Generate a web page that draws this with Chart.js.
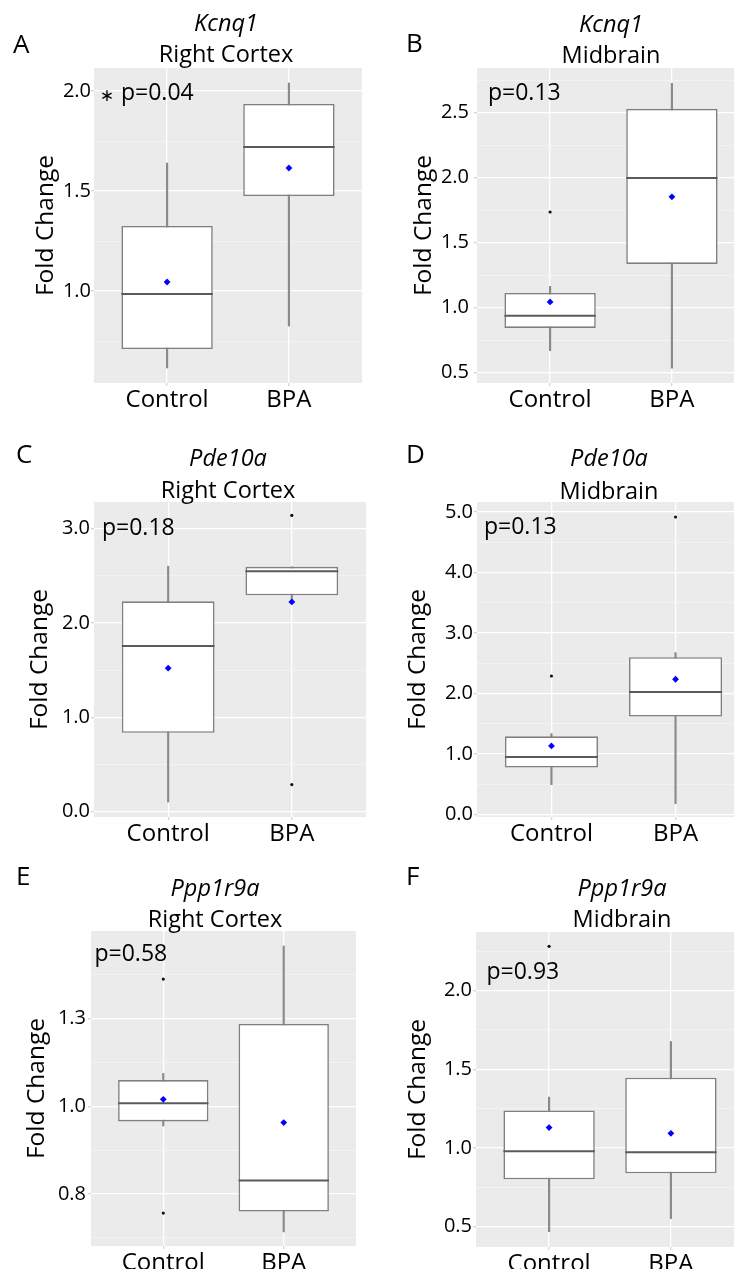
<!DOCTYPE html>
<html>
<head>
<meta charset="utf-8">
<script src="https://cdn.jsdelivr.net/npm/chart.js@4.4.0/dist/chart.umd.min.js"></script>
<style>
  html, body { margin: 0; padding: 0; background: #fff; }
  body { width: 734px; height: 1269px; overflow: hidden; position: relative; }
  .panel { position: absolute; }
</style>
</head>
<body>
<div class="panel" style="left:0;top:0"><canvas id="chartA" width="380" height="420"></canvas></div>
<div class="panel" style="left:380px;top:0"><canvas id="chartB" width="380" height="420"></canvas></div>
<div class="panel" style="left:0;top:420px"><canvas id="chartC" width="380" height="430"></canvas></div>
<div class="panel" style="left:380px;top:420px"><canvas id="chartD" width="380" height="430"></canvas></div>
<div class="panel" style="left:0;top:850px"><canvas id="chartE" width="380" height="430"></canvas></div>
<div class="panel" style="left:380px;top:850px"><canvas id="chartF" width="380" height="430"></canvas></div>
<script>
// groups on the x axis
const categories = ['Control', 'BPA'];

// A - Kcnq1, right cortex
const aLower = [0.615, 0.825];
const aQ1 = [0.71, 1.475];
const aMedian = [0.985, 1.72];
const aQ3 = [1.325, 1.935];
const aUpper = [1.64, 2.04];
const aMean = [1.045, 1.615];
const aOutliers = [[], []];
const aTicks = [1.0, 1.5, 2.0];
const aTickLabels = ['1.0', '1.5', '2.0'];
const aMinor = [0.75, 1.25, 1.75];

// B - Kcnq1, midbrain
const bLower = [0.669, 0.534];
const bQ1 = [0.844, 1.336];
const bMedian = [0.938, 1.998];
const bQ3 = [1.113, 2.53];
const bUpper = [1.164, 2.726];
const bMean = [1.044, 1.853];
const bOutliers = [[1.736], []];
const bTicks = [0.5, 1.0, 1.5, 2.0, 2.5];
const bTickLabels = ['0.5', '1.0', '1.5', '2.0', '2.5'];
const bMinor = [0.75, 1.25, 1.75, 2.25, 2.75];

// C - Pde10a, right cortex
const cLower = [0.102, 2.24];
const cQ1 = [0.836, 2.294];
const cMedian = [1.755, 2.549];
const cQ3 = [2.23, 2.596];
const cUpper = [2.602, 2.596];
const cMean = [1.521, 2.223];
const cOutliers = [[], [3.141, 0.287]];
const cTicks = [0, 1, 2, 3];
const cTickLabels = ['0.0', '1.0', '2.0', '3.0'];
const cMinor = [0.5, 1.5, 2.5];

// D - Pde10a, midbrain
const dLower = [0.49, 0.177];
const dQ1 = [0.772, 1.616];
const dMedian = [0.948, 2.023];
const dQ3 = [1.29, 2.597];
const dUpper = [1.335, 2.674];
const dMean = [1.13, 2.233];
const dOutliers = [[2.287], [4.917]];
const dTicks = [0, 1, 2, 3, 4, 5];
const dTickLabels = ['0.0', '1.0', '2.0', '3.0', '4.0', '5.0'];
const dMinor = [0.5, 1.5, 2.5, 3.5, 4.5];

// E - Ppp1r9a, right cortex
const eLower = [0.944, 0.642];
const eQ1 = [0.957, 0.70];
const eMedian = [1.009, 0.789];
const eQ3 = [1.075, 1.235];
const eUpper = [1.094, 1.457];
const eMean = [1.02, 0.954];
const eOutliers = [[1.363, 0.696], []];
const eTicks = [0.75, 1.0, 1.25];
const eTickLabels = ['0.8', '1.0', '1.3'];
const eMinor = [0.625, 0.875, 1.125, 1.375];

// F - Ppp1r9a, midbrain
const fLower = [0.468, 0.551];
const fQ1 = [0.801, 0.839];
const fMedian = [0.979, 0.972];
const fQ3 = [1.238, 1.446];
const fUpper = [1.323, 1.676];
const fMean = [1.129, 1.093];
const fOutliers = [[2.28], []];
const fTicks = [0.5, 1.0, 1.5, 2.0];
const fTickLabels = ['0.5', '1.0', '1.5', '2.0'];
const fMinor = [0.75, 1.25, 1.75, 2.25];

const FONT = '"Open Sans"';
const INK = '#000000';

const panels = [
  { id: 'chartA', letter: 'A', gene: 'Kcnq1', region: 'Right Cortex', pMark: '\u2217', pText: 'p=0.04',
    lower: aLower, q1: aQ1, median: aMedian, q3: aQ3, upper: aUpper, mean: aMean, outliers: aOutliers,
    ticks: aTicks, tickLabels: aTickLabels, minor: aMinor, yMin: 0.54, yMax: 2.115,
    area: { l: 94, r: 362, t: 68, b: 383 }, tickGap: 3, yTitleX: 46,
    letterPos: [13, 53], titleX: 226, titleY: [31, 62], pPos: [27, 32] },
  { id: 'chartB', letter: 'B', gene: 'Kcnq1', region: 'Midbrain', pText: 'p=0.13',
    lower: bLower, q1: bQ1, median: bMedian, q3: bQ3, upper: bUpper, mean: bMean, outliers: bOutliers,
    ticks: bTicks, tickLabels: bTickLabels, minor: bMinor, yMin: 0.42, yMax: 2.844,
    area: { l: 97, r: 365, t: 68, b: 383 }, tickGap: 8, yTitleX: 44,
    letterPos: [26, 52], titleX: 231, titleY: [31.5, 63], pPos: [11, 32] },
  { id: 'chartC', letter: 'C', gene: 'Pde10a', region: 'Right Cortex', pText: 'p=0.18',
    lower: cLower, q1: cQ1, median: cMedian, q3: cQ3, upper: cUpper, mean: cMean, outliers: cOutliers,
    ticks: cTicks, tickLabels: cTickLabels, minor: cMinor, yMin: -0.057, yMax: 3.283,
    area: { l: 94, r: 366, t: 82, b: 397 }, tickGap: 4, yTitleX: 40,
    letterPos: [16, 43], titleX: 228, titleY: [45.5, 78], pPos: [8, 33] },
  { id: 'chartD', letter: 'D', gene: 'Pde10a', region: 'Midbrain', pText: 'p=0.13',
    lower: dLower, q1: dQ1, median: dMedian, q3: dQ3, upper: dUpper, mean: dMean, outliers: dOutliers,
    ticks: dTicks, tickLabels: dTickLabels, minor: dMinor, yMin: -0.045, yMax: 5.165,
    area: { l: 97, r: 370, t: 82, b: 397 }, tickGap: 4, yTitleX: 38,
    letterPos: [26, 43], titleX: 229, titleY: [45.5, 78.5], pPos: [7, 31.5] },
  { id: 'chartE', letter: 'E', gene: 'Ppp1r9a', region: 'Right Cortex', pText: 'p=0.58',
    lower: eLower, q1: eQ1, median: eMedian, q3: eQ3, upper: eUpper, mean: eMean, outliers: eOutliers,
    ticks: eTicks, tickLabels: eTickLabels, minor: eMinor, yMin: 0.602, yMax: 1.50,
    area: { l: 91, r: 356, t: 81, b: 396 }, tickGap: 5, yTitleX: 37,
    letterPos: [16, 35], titleX: 215, titleY: [45.5, 77], pPos: [3.5, 30] },
  { id: 'chartF', letter: 'F', gene: 'Ppp1r9a', region: 'Midbrain', pText: 'p=0.93',
    lower: fLower, q1: fQ1, median: fMedian, q3: fQ3, upper: fUpper, mean: fMean, outliers: fOutliers,
    ticks: fTicks, tickLabels: fTickLabels, minor: fMinor, yMin: 0.371, yMax: 2.371,
    area: { l: 96, r: 364, t: 82, b: 397 }, tickGap: 4, yTitleX: 38,
    letterPos: [26, 35], titleX: 242, titleY: [45.5, 77], pPos: [10.5, 46.5] }
];

// grey panel background (ggplot style)
const panelBg = {
  id: 'panelBg',
  beforeDraw(chart) {
    const { ctx, chartArea: a } = chart;
    ctx.save();
    ctx.fillStyle = '#ebebeb';
    ctx.fillRect(a.left, a.top, a.width, a.height);
    ctx.restore();
  }
};

// median line across each box
const medianLines = {
  id: 'medianLines',
  afterDatasetDraw(chart, args, opts) {
    if (args.index !== 1) return;
    const ctx = chart.ctx;
    const y = chart.scales.y;
    ctx.save();
    ctx.strokeStyle = '#5a5a5a';
    ctx.lineWidth = 2;
    args.meta.data.forEach(function(bar, i) {
      const p = bar.getProps(['x', 'width'], true);
      const py = y.getPixelForValue(opts.median[i]);
      ctx.beginPath();
      ctx.moveTo(p.x - p.width / 2, py);
      ctx.lineTo(p.x + p.width / 2, py);
      ctx.stroke();
    });
    ctx.restore();
  }
};

// panel letter, title lines and p-value
const panelText = {
  id: 'panelText',
  afterDraw(chart, args, opts) {
    const ctx = chart.ctx;
    const a = chart.chartArea;
    ctx.save();
    ctx.fillStyle = INK;
    ctx.textBaseline = 'alphabetic';
    ctx.textAlign = 'left';
    ctx.font = '26px ' + FONT;
    ctx.fillText(opts.letter, opts.letterPos[0], opts.letterPos[1]);
    ctx.textAlign = 'center';
    ctx.font = 'italic 23.5px ' + FONT;
    ctx.fillText(opts.gene, opts.titleX, opts.titleY[0]);
    ctx.font = '23.5px ' + FONT;
    ctx.fillText(opts.region, opts.titleX, opts.titleY[1]);
    ctx.textAlign = 'left';
    ctx.font = '23px ' + FONT;
    ctx.fillText(opts.pText, a.left + opts.pPos[0], a.top + opts.pPos[1]);
    if (opts.pMark) {
      ctx.textAlign = 'right';
      ctx.font = '17px "DejaVu Sans"';
      ctx.fillText(opts.pMark, a.left + opts.pPos[0] - 7, a.top + opts.pPos[1] + 1);
    }
    ctx.restore();
  }
};

function buildChart(p) {
  const canvas = document.getElementById(p.id);
  const W = canvas.width, H = canvas.height;
  const xAxisH = 30;
  const padLeft = p.yTitleX - 15;
  const xs = [1, 2];

  const isMajor = function(v) { return p.ticks.indexOf(v) !== -1; };

  const outlierPts = [];
  p.outliers.forEach(function(list, i) {
    list.forEach(function(v) { outlierPts.push({ x: xs[i], y: v }); });
  });

  new Chart(canvas, {
    type: 'bar',
    data: {
      datasets: [
        {
          // whiskers
          data: xs.map(function(x, i) { return { x: x, y: [p.lower[i], p.upper[i]] }; }),
          backgroundColor: '#8a8a8a',
          borderWidth: 0,
          barThickness: 1.5,
          grouped: false,
          order: 4
        },
        {
          // boxes (q1 - q3)
          data: xs.map(function(x, i) { return { x: x, y: [p.q1[i], p.q3[i]] }; }),
          backgroundColor: '#ffffff',
          borderColor: '#808080',
          borderWidth: 1.6,
          borderSkipped: false,
          barPercentage: 0.75,
          categoryPercentage: 1,
          grouped: false,
          order: 3
        },
        {
          type: 'scatter',
          data: outlierPts,
          pointRadius: 1.6,
          pointBackgroundColor: '#111111',
          pointBorderWidth: 0,
          order: 2
        },
        {
          type: 'scatter',
          data: xs.map(function(x, i) { return { x: x, y: p.mean[i] }; }),
          pointStyle: 'rectRot',
          pointRadius: 3.4,
          pointBackgroundColor: '#0000ff',
          pointBorderWidth: 0,
          order: 1
        }
      ]
    },
    options: {
      responsive: false,
      animation: false,
      devicePixelRatio: 1,
      layout: {
        padding: { left: padLeft, top: p.area.t, right: W - p.area.r, bottom: H - p.area.b - xAxisH }
      },
      plugins: {
        legend: { display: false },
        tooltip: { enabled: false },
        medianLines: { median: p.median },
        panelText: p
      },
      scales: {
        x: {
          type: 'linear',
          min: 0.4,
          max: 2.6,
          offset: false,
          afterBuildTicks: function(s) { s.ticks = xs.map(function(v) { return { value: v }; }); },
          afterFit: function(s) { s.height = xAxisH; },
          ticks: {
            autoSkip: false,
            maxRotation: 0,
            padding: 0,
            color: INK,
            font: { family: 'Open Sans', size: 24 },
            callback: function(v) { return categories[v - 1]; }
          },
          grid: { offset: false, color: '#ffffff', lineWidth: 1.3, tickLength: 3, tickColor: '#d4d4d4' },
          border: { display: false }
        },
        y: {
          type: 'linear',
          min: p.yMin,
          max: p.yMax,
          afterBuildTicks: function(s) {
            s.ticks = p.ticks.concat(p.minor).sort(function(m, n) { return m - n; })
              .map(function(v) { return { value: v }; });
          },
          afterFit: function(s) { s.width = p.area.l - padLeft; },
          ticks: {
            autoSkip: false,
            padding: p.tickGap - 3,
            color: INK,
            font: { family: 'Open Sans', size: 20 },
            callback: function(v) {
              const i = p.ticks.indexOf(v);
              return i === -1 ? '' : p.tickLabels[i];
            }
          },
          grid: {
            color: function(c) { return isMajor(c.tick.value) ? '#ffffff' : '#f6f6f6'; },
            lineWidth: function(c) { return isMajor(c.tick.value) ? 1.3 : 0.7; },
            tickLength: 3,
            tickColor: function(c) { return isMajor(c.tick.value) ? '#d4d4d4' : 'rgba(0,0,0,0)'; }
          },
          border: { display: false },
          title: {
            display: true,
            text: 'Fold Change',
            color: INK,
            font: { family: 'Open Sans', size: 24.5, lineHeight: 1.2 },
            padding: 0
          }
        }
      }
    },
    plugins: [panelBg, medianLines, panelText]
  });
}

document.addEventListener('DOMContentLoaded', function() {
  panels.forEach(buildChart);
});
</script>
</body>
</html>
